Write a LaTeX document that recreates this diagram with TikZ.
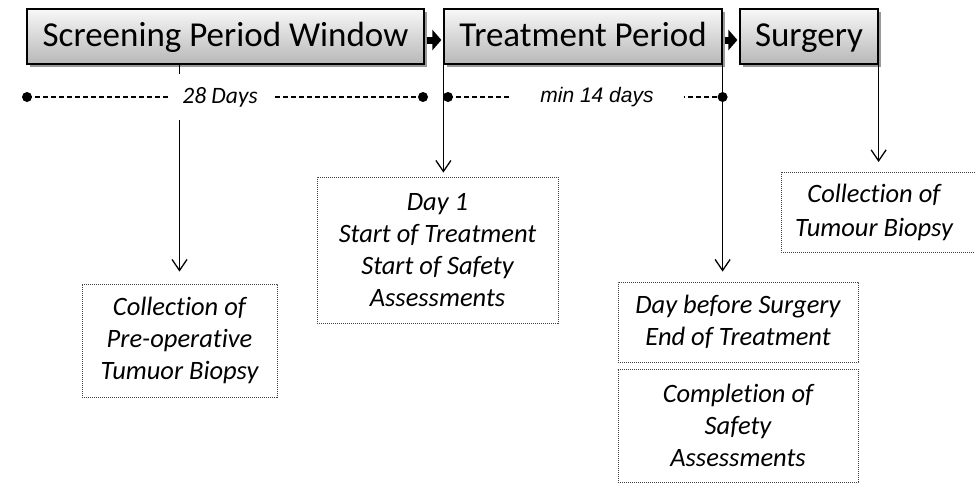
\documentclass[tikz,border=0pt]{standalone}
\usepackage{fontspec}
\setmainfont{Carlito}[Ligatures={NoCommon}]
\newfontfamily\arialfont{Liberation Sans}
\usetikzlibrary{arrows.meta,shadows,calc}
\begin{document}
\begin{tikzpicture}[x=1pt,y=-1pt,
  header/.style={draw=black, line width=1.2pt, top color=black!3, bottom color=black!28,
    minimum height=55pt, inner sep=0pt, text height=25pt, text depth=5pt,
    font=\fontsize{35}{40}\selectfont,
    drop shadow={shadow xshift=2.5pt, shadow yshift=-2.5pt, opacity=0.4, fill=black}},
  note/.style={draw=black!75, dash pattern=on 1.2pt off 0.8pt, line width=0.8pt,
    align=center, inner sep=0pt, font=\fontsize{26.5}{32}\selectfont\itshape},
  notetext/.style={align=center, inner sep=0pt, font=\fontsize{26.5}{34}\selectfont\itshape},
  conn/.style={draw=black, line width=1.3pt, -{Straight Barb[length=11pt,width=15pt]}},
  blk/.style={draw=black, line width=7pt, -{Triangle[length=9pt,width=20pt]}},
  tl/.style={draw=black, line width=1.2pt, dash pattern=on 5pt off 3pt},
  dot/.style={fill=black},
  lab/.style={fill=white, inner sep=0pt, minimum height=46pt}
]
\useasboundingbox (0,0) rectangle (975,483);

% header boxes
\node[header, minimum width=397pt] (scr) at (225.5,36.5) {Screening Period Window};
\node[header, minimum width=278pt] (trt) at (583,36.5) {Treatment Period};
\node[header, minimum width=138pt] (srg) at (809,36.5) {Surgery};

\draw[blk] ($(scr.east)+(2,3.5)$) -- ($(trt.west)+(-2,3.5)$);
\draw[blk] ($(trt.east)+(2,3.5)$) -- ($(srg.west)+(-2,3.5)$);

% note boxes
\node[note, minimum width=195pt, minimum height=113pt] (b1) at (179.5,340.5)
  {Collection of\\Pre-operative\\Tumuor Biopsy};
\node[note, minimum width=241pt, minimum height=146pt] (b2) at (437.5,250)
  {Day 1\\Start of Treatment\\Start of Safety\\Assessments};
\node[note, minimum width=240pt, minimum height=80pt] (b3) at (738,322)
  {Day before Surgery\\End of Treatment};
\node[note, minimum width=240pt, minimum height=113pt] (b4) at (738,425.5)
  {Completion of\\Safety\\Assessments};
\draw[draw=black!75, dash pattern=on 1.2pt off 0.8pt, line width=0.8pt] (781,172) rectangle (1000,252);
\node[notetext] (b5) at (874,212) {Collection of\\Tumour Biopsy};
\coordinate (b5top) at (877,172);

% connectors
\draw[conn, shorten >=12pt] (scr.south -| b1.north) -- (b1.north);
\draw[conn, shorten >=4pt] (trt.south west) -- (trt.south west |- b2.north);
\draw[conn, shorten >=10pt] (trt.south east) -- (trt.south east |- b3.north);
\draw[conn, shorten >=10pt] (srg.south east) -- (srg.south east |- b5top);

% timeline
\coordinate (d1) at (27,97);
\coordinate (d2) at (423,97);
\coordinate (d3) at (448,97);
\coordinate (d4) at (trt.south east |- d1);
\draw[tl] (d1) -- (d2);
\draw[tl] (d3) -- (d4);
\fill[dot] (d1) circle (5pt);
\fill[dot] (d2) circle (5pt);
\fill[dot] (d3) circle (5pt);
\fill[dot] (d4) circle (5pt);
\node[lab, minimum width=105pt, font=\fontsize{23.5}{26}\selectfont\itshape] (l28) at (220,97) {28 Days};
\node[lab, minimum width=174pt, minimum height=30pt, font=\arialfont\itshape\fontsize{21}{24}\selectfont] (l14) at (597,97) {min 14 days};
\end{tikzpicture}
\end{document}
